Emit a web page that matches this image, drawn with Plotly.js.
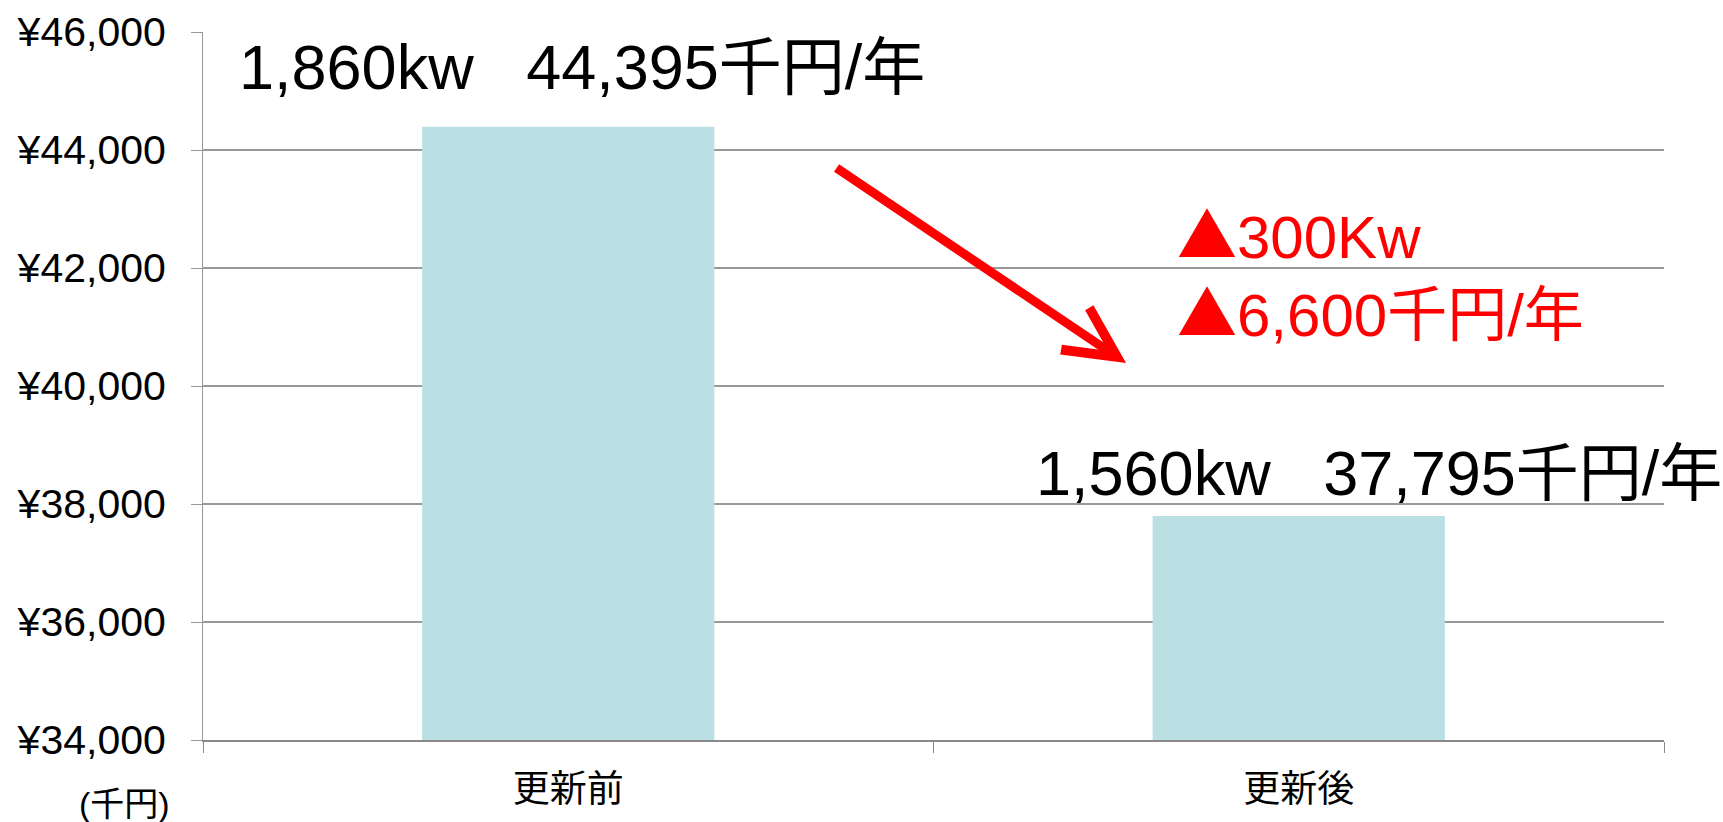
<!DOCTYPE html>
<html>
<head>
<meta charset="utf-8">
<script src="https://cdn.plot.ly/plotly-3.0.1.min.js"></script>
<style>html,body{margin:0;padding:0;background:#fff;}#chart{width:1723px;height:822px;}</style>
</head>
<body>
<div id="chart"></div>
<script>
// ---- data ----
const categories = ["更新前", "更新後"];
const costs = [44395, 37795];          // 千円/年
const powerKw = [1860, 1560];          // kw
const yTickValues = [34000, 36000, 38000, 40000, 42000, 44000, 46000];
const unitLabel = "(千円)";

const FONT = "'Liberation Sans', Arial, 'Noto Sans CJK JP', sans-serif";
const CJK = "Noto Sans CJK JP, sans-serif";
const fmt = n => n.toLocaleString("en-US");

const trace = {
  type: "bar",
  x: categories,
  y: costs,
  marker: { color: "#BAE0E3" },
  hoverinfo: "x+y"
};

const labelShiftX = [14, 80];
const labelShiftY = [23, 6];
const annotations = categories.map((c, i) => ({
  xref: "x", yref: "y",
  x: c, y: costs[i],
  xanchor: "center", yanchor: "bottom",
  xshift: labelShiftX[i], yshift: labelShiftY[i],
  text: fmt(powerKw[i]) + "kw\u00a0\u00a0\u00a0" + fmt(costs[i]) + "千円/年",
  showarrow: false,
  font: { family: FONT, size: 63, color: "#000" }
}));

const diffKw = powerKw[0] - powerKw[1];
const diffCost = costs[0] - costs[1];
const tri = "<span style=\"font-family:" + CJK + "\">▲</span>";
const diffLines = [tri + fmt(diffKw) + "Kw", tri + fmt(diffCost) + "千円/年"];
const diffY = [0.783, 0.673];
diffLines.forEach((t, i) => annotations.push({
  xref: "paper", yref: "paper",
  x: 0.6653, y: diffY[i],
  xanchor: "left", yanchor: "top", align: "left",
  text: t,
  showarrow: false,
  font: { family: FONT, size: 60, color: "#FF0000" }
}));
annotations.push({
  xref: "paper", yref: "paper",
  x: 0.6318, y: 0.5325,
  ax: -291, ay: -196,
  text: "",
  showarrow: true,
  arrowhead: 5, arrowsize: 1.1, arrowwidth: 9,
  arrowcolor: "#FF0000"
});
annotations.push({
  xref: "paper", yref: "paper",
  x: -0.0537, y: -0.091,
  xanchor: "center", yanchor: "middle",
  text: unitLabel, showarrow: false,
  font: { family: FONT, size: 34, color: "#000" }
});

const layout = {
  width: 1723, height: 822,
  margin: { l: 203, r: 59, t: 32, b: 82 },
  paper_bgcolor: "#fff", plot_bgcolor: "#fff",
  bargap: 0.6,
  showlegend: false,
  font: { family: FONT, color: "#000" },
  xaxis: {
    type: "category",
    range: [-0.5, categories.length - 0.5],
    showline: true, linecolor: "#888", linewidth: 2,
    ticks: "outside", tickson: "boundaries", ticklen: 11, tickcolor: "#888", tickwidth: 1,
    showgrid: false,
    ticklabelstandoff: 16,
    tickfont: { family: FONT, size: 37, color: "#000" }
  },
  yaxis: {
    range: [34000, 46000],
    tickvals: yTickValues,
    ticktext: yTickValues.map(v => "¥" + fmt(v)),
    showline: true, linecolor: "#999", linewidth: 1,
    ticks: "outside", ticklen: 11, tickcolor: "#999",
    showgrid: true, gridcolor: "#999", gridwidth: 1.5,
    zeroline: false,
    ticklabelstandoff: 17,
    tickfont: { family: FONT, size: 41, color: "#000" }
  },
  annotations: annotations
};

Plotly.newPlot("chart", [trace], layout, { displayModeBar: false, staticPlot: true });
</script>
</body>
</html>
